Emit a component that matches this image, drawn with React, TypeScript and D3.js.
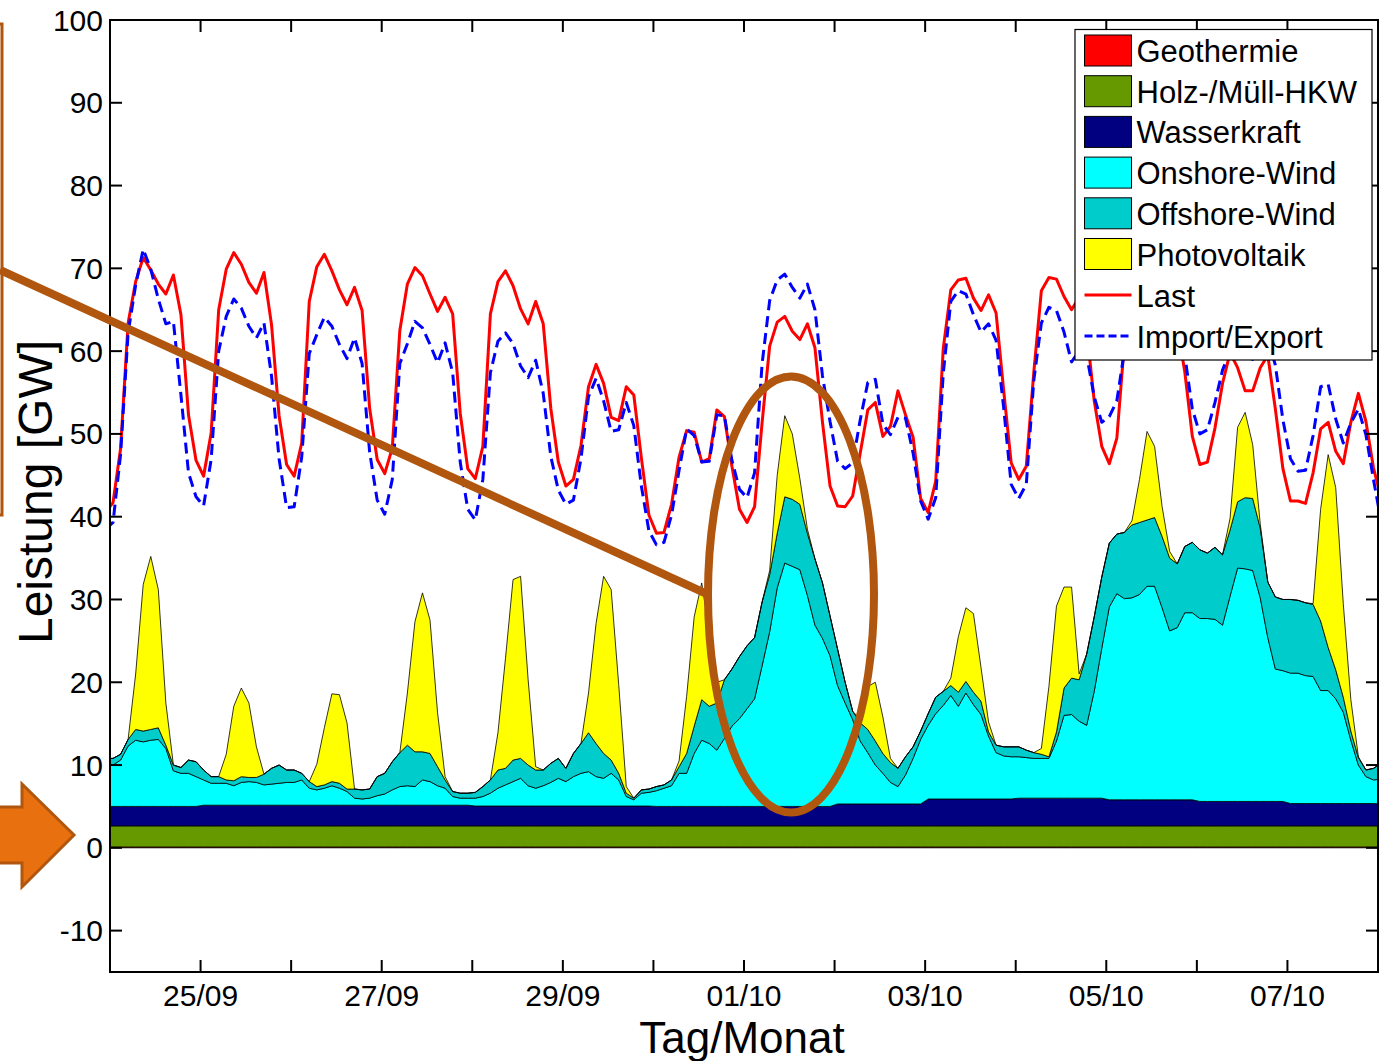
import React from 'react';
import * as d3 from 'd3';

// time grid: hours since 24/09 00:00, first sample at -1.2 h, one sample every 2 h
const T_START = -1.2;
const T_STEP = 2;

// Last [GW]
const last = [
  40.5, 41.7, 48.2, 63.4, 68.4, 71.3, 69.8, 68.1, 66.9, 69.2, 64.4, 52.3, 46.8,
  44.9, 50.1, 65.0, 69.9, 71.9, 70.5, 68.3, 67.0, 69.5, 63.2, 52.2, 46.3,
  44.9, 48.9, 66.0, 70.2, 71.7, 69.7, 67.4, 65.6, 67.7, 64.9, 53.1, 46.9,
  45.2, 48.3, 62.5, 68.1, 70.1, 69.1, 66.9, 64.8, 66.5, 64.5, 52.5, 45.8,
  44.6, 48.5, 64.5, 68.4, 69.7, 67.9, 65.1, 63.3, 66.0, 63.3, 53.1, 46.6,
  43.7, 44.5, 48.6, 55.7, 58.4, 56.1, 52.0, 51.6, 55.7, 54.7, 47.1, 40.2,
  38.0, 38.1, 41.5, 47.2, 50.4, 50.2, 46.6, 47.0, 52.9, 52.1, 46.1, 40.9,
  39.3, 41.2, 51.4, 60.6, 63.5, 64.2, 62.4, 61.4, 63.3, 60.4, 51.4, 43.7,
  41.3, 41.2, 42.5, 47.7, 52.9, 53.8, 49.7, 50.9, 55.2, 52.3, 49.6, 42.2,
  40.5, 44.3, 60.3, 67.4, 68.6, 68.8, 66.4, 64.9, 66.8, 64.6, 55.3, 46.5,
  44.5, 46.1, 57.5, 67.3, 68.9, 68.7, 66.6, 65.0, 66.5, 62.5, 54.0, 48.5,
  46.4, 49.5, 61.0, 66.5, 68.0, 67.5, 65.5, 64.0, 66.0, 63.0, 57.5, 49.7,
  46.3, 46.6, 50.7, 56.1, 59.8, 58.0, 55.2, 55.2, 58.0, 59.5, 53.0, 45.8,
  41.9, 41.9, 41.6, 45.3, 50.6, 51.4, 47.9, 46.4, 51.4, 54.9, 51.5, 45.9,
  42.3,
];

// Import/Export [GW]
const importExport = [
  38.5, 39.3, 47.5, 62.2, 68.0, 72.3, 69.9, 66.3, 63.3, 63.6, 54.7, 45.3, 42.4,
  41.3, 46.9, 60.0, 64.2, 66.3, 65.2, 63.0, 61.6, 63.4, 57.0, 47.0, 41.1,
  41.2, 47.2, 59.7, 62.0, 64.1, 63.0, 60.8, 59.1, 61.6, 58.5, 47.8, 42.0,
  40.3, 44.5, 58.5, 60.9, 63.6, 62.8, 60.8, 58.6, 61.0, 57.4, 46.6, 40.9,
  39.6, 44.5, 57.4, 61.2, 62.2, 60.9, 58.2, 56.8, 58.9, 54.9, 47.3, 43.2,
  41.5, 42.0, 47.0, 54.5, 56.7, 54.0, 50.3, 50.5, 53.8, 51.0, 43.7, 38.3,
  36.6, 36.9, 40.2, 45.6, 50.6, 49.8, 46.6, 46.7, 52.3, 52.2, 46.8, 43.3,
  42.3, 45.3, 58.5, 66.1, 68.6, 69.3, 67.7, 66.4, 68.1, 65.0, 57.0, 51.5,
  46.7, 45.8, 46.5, 51.7, 56.2, 56.6, 51.2, 49.9, 52.0, 51.9, 47.7, 41.9,
  39.7, 42.3, 57.3, 66.0, 67.3, 66.9, 64.4, 62.3, 63.3, 61.3, 53.2, 43.9,
  42.2, 43.9, 56.5, 63.4, 65.3, 64.9, 62.3, 58.7, 60.0, 59.5, 54.5, 51.4,
  52.1, 54.0, 60.0, 63.0, 63.5, 62.5, 60.5, 59.5, 61.0, 60.0, 59.5, 53.0,
  50.0, 50.5, 53.8, 57.7, 60.0, 61.0, 59.5, 59.0, 60.5, 61.5, 58.3, 51.7,
  47.0, 45.5, 45.6, 49.8, 55.7, 56.0, 51.8, 48.9, 51.3, 53.0, 49.9, 44.5,
  39.5,
];

// Onshore-Wind [GW]
const onshoreWind = [
  5.0, 5.0, 5.6, 7.3, 8.0, 7.8, 8.0, 8.1, 7.0, 4.3, 4.0, 4.0, 3.6,
  3.05, 2.65, 2.65, 2.65, 2.35, 2.75, 2.85, 2.75, 2.45, 2.55, 2.65, 2.75,
  2.75, 3.05, 2.05, 1.85, 2.05, 2.35, 2.05, 1.65, 0.85, 0.75, 0.85, 1.15,
  1.35, 1.85, 2.25, 2.35, 2.25, 3.05, 2.85, 2.35, 2.05, 1.05, 0.85, 0.85,
  0.95, 1.15, 1.55, 2.15, 2.55, 2.95, 3.35, 2.45, 2.15, 2.45, 2.85, 3.35,
  2.95, 3.55, 3.95, 4.15, 3.55, 3.35, 3.95, 3.15, 1.15, 0.75, 1.55, 1.65,
  1.9, 2.2, 2.5, 4.0, 4.0, 6.4, 8.0, 7.6, 6.8, 8.2, 9.7, 10.6,
  11.8, 13.0, 17.0, 21.1, 26.4, 29.4, 29.0, 28.6, 25.5, 21.9, 20.3, 18.2,
  14.3, 12.2, 10.2, 7.6, 6.2, 4.7, 3.7, 2.6, 2.1, 3.5, 5.5, 7.8,
  8.9, 10.3, 11.3, 12.5, 11.2, 12.8, 11.4, 10.2, 7.6, 5.6, 5.2, 5.1,
  5.0, 4.9, 4.8, 4.8, 4.8, 6.9, 10.0, 10.1, 9.3, 8.8, 12.9, 18.1,
  23.3, 24.9, 24.3, 24.4, 24.8, 25.8, 25.8, 23.2, 20.4, 20.8, 22.6, 22.6,
  22.1, 22.1, 22.0, 21.3, 24.8, 28.2, 28.1, 27.9, 24.6, 19.8, 16.0, 15.8,
  15.75, 15.75, 15.45, 15.35, 13.65, 13.65, 12.65, 11.05, 7.65, 4.65, 3.25, 2.85,
  3.0,
];

// Offshore-Wind [GW]
const offshoreWind = [
  0.8, 0.8, 0.7, 0.8, 1.3, 1.3, 1.3, 1.4, 0.4, 0.7, 0.7, 1.6, 1.8,
  1.2, 0.8, 0.8, 0.4, 0.6, 0.7, 0.5, 0.6, 1.3, 1.9, 2.2, 1.5,
  1.5, 0.8, 0.8, 0.4, 0.4, 0.5, 0.6, 0.3, 1.1, 1.1, 1.1, 2.3,
  2.5, 3.4, 4.1, 4.9, 4.2, 3.4, 3.4, 2.3, 1.0, 0.6, 0.6, 0.6,
  0.7, 1.2, 1.6, 2.2, 2.0, 2.6, 2.4, 2.5, 2.2, 1.9, 2.3, 2.4,
  1.6, 2.8, 3.6, 4.7, 4.0, 3.0, 1.6, 0.8, 0.4, 0.2, 0.4, 0.4,
  0.5, 0.4, 0.7, 0.8, 2.4, 3.3, 4.9, 4.5, 5.7, 7.1, 6.9, 7.5,
  7.6, 7.4, 7.7, 6.9, 6.6, 8.0, 8.1, 7.9, 7.5, 8.0, 6.7, 4.8,
  4.4, 2.5, 1.0, 2.2, 2.8, 2.9, 2.4, 2.4, 2.2, 2.2, 1.4, 1.0,
  1.4, 2.0, 1.7, 1.2, 1.7, 1.4, 1.5, 1.6, 0.5, 0.9, 1.1, 1.2,
  1.2, 0.9, 0.7, 0.5, 0.2, 1.1, 3.3, 4.4, 5.0, 8.6, 9.0, 8.6,
  7.7, 7.2, 8.0, 8.8, 8.7, 8.0, 8.3, 8.6, 8.8, 7.7, 8.0, 8.5,
  8.3, 7.9, 8.7, 8.5, 8.0, 8.0, 8.6, 8.7, 8.4, 6.7, 8.7, 8.6,
  8.9, 8.8, 8.8, 8.7, 8.4, 5.2, 3.5, 1.8, 1.1, 0.9, 0.8, 1.4,
  1.9,
];

// Photovoltaik [GW]
const photovoltaik = [
  0, 0, 0, 0, 6.7, 17.7, 20.9, 16.7, 5.1, 0, 0, 0, 0,
  0, 0, 0, 3.1, 9.0, 10.7, 9.0, 3.7, 0, 0, 0, 0,
  0, 0, 0, 2.7, 6.9, 10.6, 10.7, 8.0, 0, 0, 0, 0,
  0, 0, 0, 6.3, 15.7, 19.2, 16.1, 6.5, 0.4, 0, 0, 0,
  0, 0, 0, 4.5, 13.3, 21.8, 22.0, 10.3, 0.4, 0, 0, 0,
  0, 0, 0, 4.8, 14.5, 21.4, 20.6, 10.7, 0.8, 0, 0, 0,
  0, 0, 0, 0.7, 6.9, 13.2, 14.1, 8.9, 2.5, 0, 0, 0,
  0, 0, 0, 0.5, 7.0, 9.8, 7.9, 3.1, 0.5, 0, 0, 0,
  0, 0, 0, 0.4, 5.2, 7.1, 4.4, 0.5, 0, 0, 0, 0,
  0, 0, 0, 0.9, 6.7, 8.9, 9.5, 4.1, 1.2, 0, 0, 0,
  0, 0, 0, 0.7, 8.5, 15.2, 12.2, 11.0, 0.7, 0, 0, 0,
  0, 0, 0, 0.5, 5.2, 10.7, 8.6, 3.6, 0.8, 0, 0, 0,
  0, 0, 0, 0, 1.4, 9.0, 10.3, 6.5, 0.5, 0, 0, 0,
  0, 0, 0, 0.1, 13.5, 23.3, 22.0, 11.3, 3.8, 0.1, 0, 0,
  0,
];

// daily values (24/09 ... 08/10) [GW]
const geothermieDaily = [0.1, 0.1, 0.1, 0.1, 0.1, 0.1, 0.1, 0.1, 0.1, 0.1, 0.1, 0.1, 0.1, 0.1, 0.1];
const holzMuellDaily = [2.55, 2.55, 2.55, 2.55, 2.55, 2.55, 2.55, 2.55, 2.55, 2.55, 2.55, 2.55, 2.55, 2.55, 2.55];
const wasserDaily = [2.35, 2.5, 2.5, 2.5, 2.4, 2.4, 2.35, 2.35, 2.65, 3.25, 3.35, 3.15, 2.95, 2.7, 2.65];

const dayTickHours = [24, 48, 72, 96, 120, 144, 168, 192, 216, 240, 264, 288, 312];
const dayTickLabels = ['25/09', '', '27/09', '', '29/09', '', '01/10', '', '03/10', '', '05/10', '', '07/10'];
const yTickValues = [-10, 0, 10, 20, 30, 40, 50, 60, 70, 80, 90, 100];

const layerKeys = ['geo', 'holz', 'wasser', 'onshore', 'offshore', 'pv'];
const layerColors: Record<string, string> = {
  geo: '#FF0000',
  holz: '#669900',
  wasser: '#000080',
  onshore: '#00FFFF',
  offshore: '#00CCCC',
  pv: '#FFFF00',
};
const legendNames = ['Geothermie', 'Holz-/Müll-HKW', 'Wasserkraft', 'Onshore-Wind', 'Offshore-Wind', 'Photovoltaik'];

const FONT = '"Liberation Sans", Arial, Helvetica, sans-serif';

export default function App() {
  const W = 1381;
  const H = 1061;
  const L = 110, R = 1378, T = 20, B = 972;
  const x = d3.scaleLinear().domain([0, 336]).range([L, R]);
  const y = d3.scaleLinear().domain([-15, 100]).range([B, T]);

  const times = last.map((_, i) => T_START + T_STEP * i);
  const rows = times.map((t, i) => {
    const d = Math.max(0, Math.min(14, Math.floor(t / 24)));
    return {
      t,
      geo: geothermieDaily[d],
      holz: holzMuellDaily[d],
      wasser: wasserDaily[d],
      onshore: onshoreWind[i],
      offshore: offshoreWind[i],
      pv: photovoltaik[i],
    };
  });
  const stacked = d3.stack<any>().keys(layerKeys)(rows);
  const area = d3
    .area<any>()
    .x((d: any) => x(d.data.t))
    .y0((d: any) => y(d[0]))
    .y1((d: any) => y(d[1]));
  const line = d3
    .line<number>()
    .x((_, i) => x(times[i]))
    .y((v) => y(v));

  const legendRowY = (i: number) => 50.5 + i * 40.7;

  return (
    <div style={{ position: 'absolute', left: 0, top: 0 }}>
      <svg width={W} height={H} style={{ display: 'block', background: '#fff' }} fontFamily={FONT}>
        <defs>
          <clipPath id="plotclip">
            <rect x={L} y={T} width={R - L} height={B - T} />
          </clipPath>
        </defs>
        <rect x={0} y={0} width={W} height={H} fill="#fff" />
        <g clipPath="url(#plotclip)">
          {stacked.map((s: any) => (
            <path
              key={s.key}
              d={area(s) || ''}
              fill={layerColors[s.key]}
              stroke="#000"
              strokeWidth={0.8}
              strokeLinejoin="round"
            />
          ))}
          <path d={line(last) || ''} fill="none" stroke="#FF0000" strokeWidth={3} strokeLinejoin="round" />
          <path
            d={line(importExport) || ''}
            fill="none"
            stroke="#0000FF"
            strokeWidth={3}
            strokeDasharray="11,6"
            strokeLinejoin="round"
          />
        </g>

        {/* axes box */}
        <rect x={L} y={T} width={R - L} height={B - T} fill="none" stroke="#000" strokeWidth={2} />
        {/* y ticks */}
        {yTickValues.map((v) => (
          <g key={'y' + v}>
            <line x1={L} x2={L + 12} y1={y(v)} y2={y(v)} stroke="#000" strokeWidth={2} />
            <line x1={R} x2={R - 12} y1={y(v)} y2={y(v)} stroke="#000" strokeWidth={2} />
            <text x={L - 7} y={y(v) + 10.5} fontSize={30} textAnchor="end" fill="#000">
              {v}
            </text>
          </g>
        ))}
        {/* x ticks */}
        {dayTickHours.map((h, i) => (
          <g key={'x' + h}>
            <line x1={x(h)} x2={x(h)} y1={B} y2={B - 12} stroke="#000" strokeWidth={2} />
            <line x1={x(h)} x2={x(h)} y1={T} y2={T + 12} stroke="#000" strokeWidth={2} />
            {dayTickLabels[i] && (
              <text x={x(h)} y={1006} fontSize={30} textAnchor="middle" fill="#000">
                {dayTickLabels[i]}
              </text>
            )}
          </g>
        ))}
        <text x={742} y={1053} fontSize={44} textAnchor="middle" fill="#000">
          Tag/Monat
        </text>
        <text
          transform="translate(52,492) rotate(-90)"
          fontSize={48}
          textAnchor="middle"
          fill="#000"
        >
          Leistung [GW]
        </text>

        {/* legend */}
        <rect x={1075} y={29.5} width={297} height={330.5} fill="#fff" stroke="#000" strokeWidth={1.2} />
        {layerKeys.map((k, i) => (
          <g key={'lg' + k}>
            <rect
              x={1084.5}
              y={legendRowY(i) - 15.5}
              width={47}
              height={31}
              fill={layerColors[k]}
              stroke="#000"
              strokeWidth={1}
            />
            <text x={1136.5} y={legendRowY(i) + 11.5} fontSize={31} fill="#000">
              {legendNames[i]}
            </text>
          </g>
        ))}
        <line x1={1084.5} x2={1131.5} y1={295} y2={295} stroke="#FF0000" strokeWidth={3} />
        <text x={1136.5} y={306.5} fontSize={31} fill="#000">
          Last
        </text>
        <line
          x1={1084.5}
          x2={1131.5}
          y1={336}
          y2={336}
          stroke="#0000FF"
          strokeWidth={3}
          strokeDasharray="8,4"
        />
        <text x={1136.5} y={347.5} fontSize={31} fill="#000">
          Import/Export
        </text>

        {/* annotation overlays */}
        <rect x={-20} y={24} width={22} height={491} fill="none" stroke="#B0560E" strokeWidth={3} />
        <line x1={0} y1={270} x2={707} y2={594} stroke="#B0560E" strokeWidth={8} />
        <ellipse cx={791} cy={594.5} rx={83} ry={218} fill="none" stroke="#B0560E" strokeWidth={8} />
        <path
          d="M-5,807 L22,807 L22,784 L74,835 L22,887 L22,863 L-5,863 Z"
          fill="#E8700F"
          stroke="#B0560E"
          strokeWidth={3}
          strokeLinejoin="miter"
        />
      </svg>
    </div>
  );
}
